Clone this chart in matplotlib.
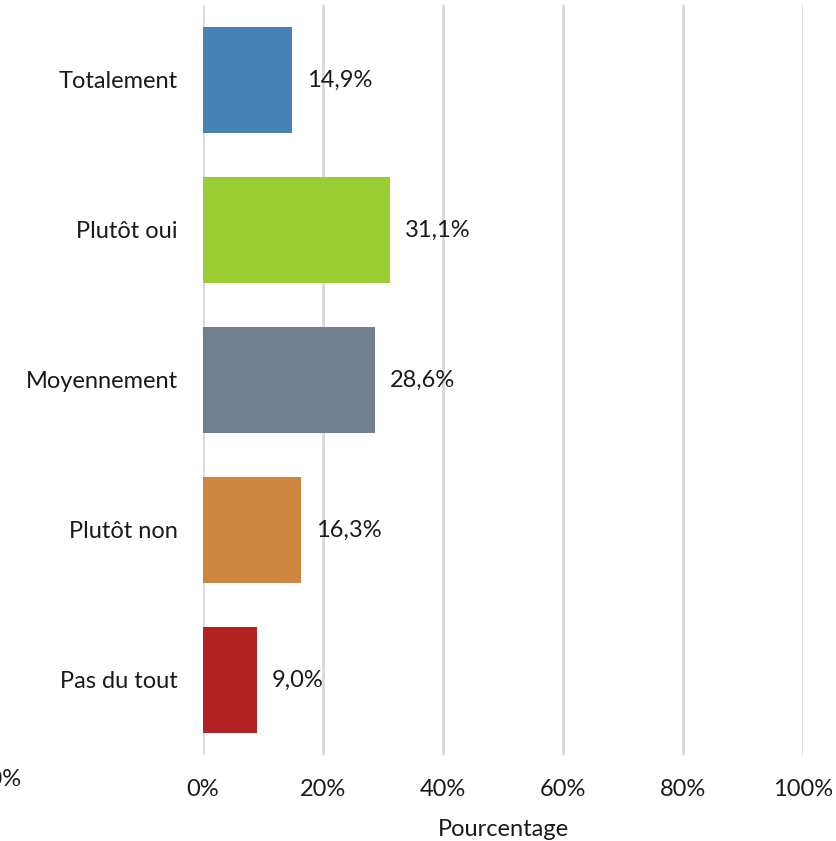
import matplotlib
matplotlib.use("Agg")
import matplotlib.pyplot as plt

categories = ["Totalement", "Plutôt oui", "Moyennement", "Plutôt non", "Pas du tout"]
values = [14.9, 31.1, 28.6, 16.3, 9.0]
colors = ["#4682B4", "#9ACD32", "#708090", "#CD853F", "#B22222"]
xticks = [0, 20, 40, 60, 80, 100]

plt.rcParams["font.family"] = ["Lato", "DejaVu Sans"]
FS = 17

fig = plt.figure(figsize=(8.36, 8.41), dpi=100)
ax = fig.add_axes([203 / 836, 1 - 755 / 841, 600 / 836, 750 / 841])

ypos = list(range(len(categories)))
ax.barh(ypos, values, height=0.707, color=colors, zorder=3)
for y, v in zip(ypos, values):
    ax.text(v + 2.5, y, f"{v:.1f}%".replace(".", ","), va="center", ha="left",
            fontsize=FS, color="#1a1a1a", zorder=4)

ax.set_ylim(len(categories) - 0.5, -0.5)
ax.set_xlim(0, 100)
ax.set_yticks(ypos)
ax.set_yticklabels(categories, fontsize=FS, color="#1a1a1a")
ax.set_xticks(xticks)
ax.set_xticklabels([f"{t}%" for t in xticks], fontsize=FS, color="#1a1a1a")
ax.tick_params(axis="both", length=0)
ax.tick_params(axis="y", pad=18)
ax.tick_params(axis="x", pad=17)
ax.set_xlabel("Pourcentage", fontsize=FS, color="#1a1a1a", labelpad=14)
ax.xaxis.grid(True, color="#d9d9d9", linewidth=2, zorder=0)
ax.set_axisbelow(True)
for s in ax.spines.values():
    s.set_visible(False)

# clipped label at left edge
fig.text(22 / 836, 1 - 780 / 841, "-20%", ha="right", va="center", fontsize=FS, color="#1a1a1a")

fig.savefig("out.png", dpi=100)
